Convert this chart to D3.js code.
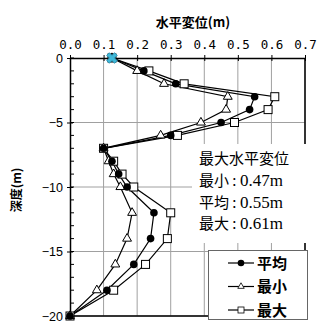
<!DOCTYPE html>
<html><head><meta charset="utf-8">
<script src="https://cdn.jsdelivr.net/npm/d3@7"></script>
<style>body{margin:0;background:#fff}</style>
</head><body><svg id="c" width="324" height="326"></svg>
<script>
const depths = [0,-1,-2,-3,-4,-5,-6,-7,-8,-9,-10,-12,-14,-16,-18,-20];
const meanVals = [0.125,0.22,0.315,0.55,0.535,0.45,0.30,0.10,0.125,0.145,0.17,0.25,0.24,0.19,0.11,0];
const minVals  = [0.125,0.20,0.28,0.47,0.465,0.39,0.27,0.10,0.115,0.13,0.15,0.185,0.17,0.135,0.08,0];
const maxVals  = [0.125,0.235,0.34,0.61,0.59,0.49,0.32,0.10,0.13,0.155,0.19,0.30,0.29,0.225,0.13,0];
const xTicks = [0,0.1,0.2,0.3,0.4,0.5,0.6,0.7];
const yTicks = [0,-5,-10,-15,-20];
const yMinorTicks = d3.range(0,-21,-1);
const seriesNames = ["平均","最小","最大"];
const noteTitle = "最大水平変位";
const noteLabels = ["最小","平均","最大"];
const noteValues = ["0.47m","0.55m","0.61m"];
const highlightX = [0.125], highlightDepth = [0];

const svg = d3.select("#c");
const x = d3.scaleLinear().domain([0,0.7]).range([70,305]);
const y = d3.scaleLinear().domain([0,-20]).range([58,316]);

// gridlines
const g = svg.append("g");
g.selectAll("line.vx").data(xTicks.slice(1)).join("line")
  .attr("x1",d=>x(d)).attr("x2",d=>x(d)).attr("y1",y(0)).attr("y2",y(-20))
  .attr("stroke","#a0a0a0").attr("stroke-width",1);
g.selectAll("line.hy").data(yTicks.slice(1)).join("line")
  .attr("x1",x(0)).attr("x2",x(0.7)).attr("y1",d=>y(d)).attr("y2",d=>y(d))
  .attr("stroke","#a0a0a0").attr("stroke-width",1);

// frame right & bottom
svg.append("line").attr("x1",x(0.7)).attr("x2",x(0.7)).attr("y1",y(0)).attr("y2",y(-20)).attr("stroke","#000").attr("stroke-width",1.5);
svg.append("line").attr("x1",x(0)).attr("x2",x(0.7)).attr("y1",y(-20)).attr("y2",y(-20)).attr("stroke","#000").attr("stroke-width",1.5);

// top axis
const xAxis = d3.axisTop(x).tickValues(xTicks).tickFormat(d3.format(".1f")).tickSizeInner(3).tickSizeOuter(0);
const ax = svg.append("g").attr("transform",`translate(0,${y(0)})`).call(xAxis);
ax.select(".domain").attr("stroke","#000").attr("stroke-width",1.5);
ax.selectAll(".tick line").attr("y2",3).attr("y1",-3);
ax.selectAll("text").attr("font-family","'DejaVu Sans Mono', monospace").attr("font-size",12.5).attr("dy","0").attr("y",-9).attr("fill","#000");

// left axis
const yAxis = d3.axisLeft(y).tickValues(yTicks).tickFormat(d=>d===0?"0":d3.format("d")(d)).tickSizeInner(3).tickSizeOuter(0);
const ay = svg.append("g").attr("transform",`translate(${x(0)},0)`).call(yAxis);
ay.select(".domain").attr("stroke","#000").attr("stroke-width",1.5);
ay.selectAll(".tick line").attr("x1",3).attr("x2",-3);
ay.selectAll("text").attr("font-family","'Liberation Sans', Arial, sans-serif").attr("font-size",12.5).attr("x",-7).attr("fill","#000");
svg.append("g").selectAll("line").data(yMinorTicks).join("line")
  .attr("x1",x(0)).attr("x2",x(0)+4).attr("y1",d=>y(d)).attr("y2",d=>y(d)).attr("stroke","#000");

// titles
svg.append("text").attr("x",193).attr("y",27).attr("text-anchor","middle")
  .attr("font-family","'Noto Sans CJK JP', sans-serif").attr("font-size",13).attr("font-weight","bold").text("水平変位(m)");
svg.append("text").attr("transform","translate(21,190) rotate(-90)").attr("text-anchor","middle")
  .attr("font-family","'Noto Sans CJK JP', sans-serif").attr("font-size",12).attr("font-weight","bold").text("深度(m)");

// series
const series = [
  {name:seriesNames[2], vals:maxVals, type:"square"},
  {name:seriesNames[1], vals:minVals, type:"triangle"},
  {name:seriesNames[0], vals:meanVals, type:"circle"}
];
const line = d3.line().x(d=>x(d[0])).y(d=>y(d[1]));
function drawMarker(sel, type){
  if(type==="circle") sel.append("circle").attr("r",3.8).attr("fill","#000");
  else if(type==="triangle") sel.append("path").attr("d",d3.symbol(d3.symbolTriangle,34)()).attr("fill","#fff").attr("stroke","#000").attr("stroke-width",1);
  else sel.append("rect").attr("x",-4).attr("y",-4).attr("width",8).attr("height",8).attr("fill","#fff").attr("stroke","#000").attr("stroke-width",1);
}
series.forEach(s=>{
  const pts = s.vals.map((v,i)=>[v,depths[i]]);
  svg.append("path").attr("d",line(pts)).attr("fill","none").attr("stroke","#000").attr("stroke-width",1.2);
});
series.forEach(s=>{
  const pts = s.vals.map((v,i)=>[v,depths[i]]);
  svg.append("g").selectAll("g").data(pts).join("g")
    .attr("transform",d=>`translate(${x(d[0])},${y(d[1])})`)
    .each(function(){ drawMarker(d3.select(this), s.type); });
});
// highlight marker
svg.append("g").selectAll("path").data(highlightX.map((v,i)=>[v,highlightDepth[i]])).join("path")
  .attr("transform",d=>`translate(${x(d[0])},${y(d[1])}) rotate(45)`)
  .attr("d",d3.symbol(d3.symbolCross,70)()).attr("fill","#40b8d8").attr("stroke","#2a8fb0").attr("stroke-width",0.8);

// note box
svg.append("rect").attr("x",192).attr("y",144).attr("width",132).attr("height",99).attr("fill","#fff");
svg.append("text").attr("x",199).attr("y",164)
  .attr("font-family","'Noto Sans CJK JP', sans-serif").attr("font-size",15).attr("fill","#000").text(noteTitle);
noteLabels.forEach((lab,i)=>{
  const t = svg.append("text").attr("x",199).attr("y",186+i*21.5).attr("fill","#000");
  t.append("tspan").attr("font-family","'Noto Sans CJK JP', sans-serif").attr("font-size",15).text(lab+" : ");
  t.append("tspan").attr("font-family","'Liberation Serif', serif").attr("font-size",17).text(noteValues[i]);
});

// legend
const lg = svg.append("g");
lg.append("rect").attr("x",208.5).attr("y",250.5).attr("width",99).attr("height",69).attr("fill","#fff").attr("stroke","#666").attr("stroke-width",1);
const legItems = [series[2],series[1],series[0]];
legItems.forEach((s,i)=>{
  const yy = 263+i*23.5;
  lg.append("line").attr("x1",228).attr("x2",254).attr("y1",yy).attr("y2",yy).attr("stroke","#000").attr("stroke-width",1.2);
  const m = lg.append("g").attr("transform",`translate(241,${yy})`);
  if(s.type==="circle") m.append("circle").attr("r",3.3).attr("fill","#000");
  else if(s.type==="triangle") m.append("path").attr("d",d3.symbol(d3.symbolTriangle,18)()).attr("fill","#fff").attr("stroke","#000").attr("stroke-width",0.8);
  else m.append("rect").attr("x",-3).attr("y",-3).attr("width",6).attr("height",6).attr("fill","#fff").attr("stroke","#000").attr("stroke-width",0.8);
  lg.append("text").attr("x",257).attr("y",yy+5.5).attr("font-family","'Noto Sans CJK JP', sans-serif").attr("font-size",15).attr("font-weight","bold").text(s.name);
});
</script></body></html>
